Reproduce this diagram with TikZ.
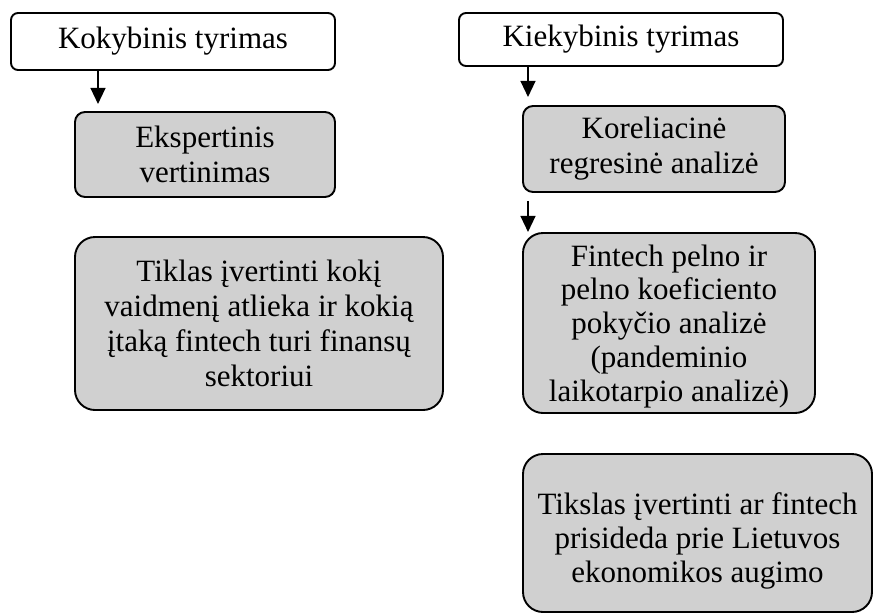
\documentclass[tikz,border=0pt]{standalone}
\usepackage{fontspec}
\setmainfont{Liberation Serif}
\usetikzlibrary{arrows.meta}
\definecolor{boxgray}{RGB}{208,208,208}
\newcommand{\lowertext}[2]{\raisebox{-#1}[\height][\depth]{\begin{tabular}{@{}c@{}}#2\end{tabular}}}
\begin{document}
\begin{tikzpicture}[x=1pt,y=-1pt,
  basebox/.style={draw=black, line width=1.9pt, inner sep=0pt, align=center,
    font=\fontsize{31}{35}\selectfont},
  headbox/.style={basebox, fill=white, rounded corners=7pt},
  smallbox/.style={basebox, fill=boxgray, rounded corners=10pt},
  bigbox/.style={basebox, fill=boxgray, rounded corners=20pt},
  arr/.style={line width=1.3pt, -{Triangle[width=15pt,length=16pt]}}]
\useasboundingbox (0,0) rectangle (875,614);

\node[headbox, minimum width=324pt, minimum height=57pt] (A) at (173,41.5) {Kokybinis tyrimas};
\node[headbox, minimum width=324pt, minimum height=53pt] (B) at (621,39.5) {Kiekybinis tyrimas};

\node[smallbox, minimum width=260pt, minimum height=85pt] (C) at (205,154.5) {Ekspertinis\\vertinimas};
\node[smallbox, minimum width=262pt, minimum height=86pt] (D) at (654,149) {Koreliacinė\\regresinė analizė};

\node[bigbox, minimum width=368pt, minimum height=173pt] (E) at (259,323.5) {Tiklas įvertinti kokį\\vaidmenį atlieka ir kokią\\įtaką fintech turi finansų\\sektoriui};
\node[bigbox, minimum width=292pt, minimum height=180pt, font=\fontsize{31}{33.8}\selectfont] (F) at (669,323) {\lowertext{4pt}{Fintech pelno ir\\pelno koeficiento\\pokyčio analizė\\(pandeminio\\laikotarpio analizė)}};
\node[bigbox, minimum width=349pt, minimum height=158pt, font=\fontsize{31}{33.8}\selectfont] (G) at (697.5,533) {\lowertext{9pt}{Tikslas įvertinti ar fintech\\prisideda prie Lietuvos\\ekonomikos augimo}};

\coordinate (x1) at (98,0);
\coordinate (x2) at (528,0);
\draw[arr] (A.south -| x1) -- ++(0,33);
\draw[arr] (B.south -| x2) -- ++(0,30);
\draw[arr] ([yshift=-8pt]D.south -| x2) -- ++(0,31);
\end{tikzpicture}
\end{document}
